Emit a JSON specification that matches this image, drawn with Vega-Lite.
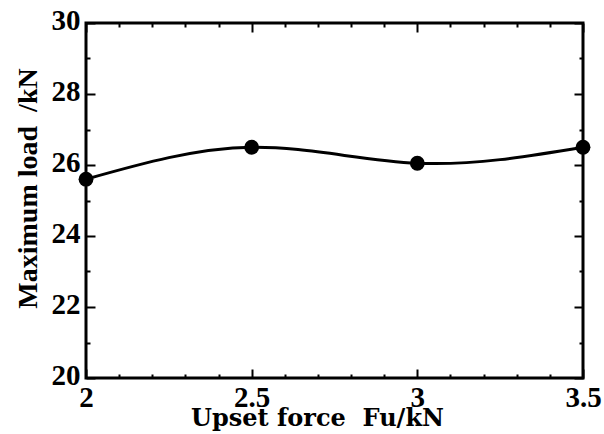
{
  "$schema": "https://vega.github.io/schema/vega-lite/v6.json",
  "width": 497,
  "height": 355,
  "autosize": {"type": "none"},
  "padding": {"left": 86, "top": 23, "right": 21, "bottom": 56},
  "background": "white",
  "config": {
    "view": {"stroke": "black", "strokeWidth": 3},
    "axis": {
      "domain": false,
      "grid": false,
      "tickColor": "black",
      "tickWidth": 2,
      "labelFont": "Liberation Serif",
      "labelFontWeight": "bold",
      "labelFontSize": 29,
      "labelColor": "black",
      "labelFlush": false,
      "labelOverlap": false,
      "titleFont": "Liberation Serif",
      "titleFontWeight": "bold",
      "titleFontSize": 28,
      "titleColor": "black"
    }
  },
  "data": {
    "values": [
      {"force": 2.0, "load": 25.6},
      {"force": 2.5, "load": 26.5},
      {"force": 3.0, "load": 26.05},
      {"force": 3.5, "load": 26.5}
    ]
  },
  "layer": [
    {
      "mark": {"type": "line", "interpolate": "natural", "color": "black", "strokeWidth": 3},
      "encoding": {
        "x": {
          "field": "force", "type": "quantitative",
          "scale": {"domain": [2, 3.5], "nice": false, "zero": false},
          "axis": {
            "orient": "bottom", "values": [2, 2.5, 3, 3.5], "format": "~g",
            "tickSize": -9, "labelPadding": 14,
            "title": "Upset force\u00a0 Fu/kN",
            "titleFont": "DejaVu Serif", "titleFontSize": 24,
            "titleX": 231, "titleY": 47, "titleAlign": "center", "titleBaseline": "alphabetic", "titleAnchor": null
          }
        },
        "y": {
          "field": "load", "type": "quantitative",
          "scale": {"domain": [20, 30], "nice": false, "zero": false},
          "axis": {
            "orient": "left", "values": [20, 22, 24, 26, 28, 30], "format": "d",
            "tickSize": -9, "labelPadding": 15, "labelOffset": -3,
            "title": "Maximum load\u00a0 /kN",
            "titleX": -50, "titleY": 165, "titleAlign": "center", "titleBaseline": "alphabetic", "titleAngle": -90, "titleAnchor": null
          }
        }
      }
    },
    {
      "mark": {"type": "point", "filled": true, "size": 220, "color": "black", "opacity": 1},
      "encoding": {
        "x": {
          "field": "force", "type": "quantitative",
          "axis": {
            "orient": "bottom", "values": [2.1, 2.2, 2.3, 2.4, 2.6, 2.7, 2.8, 2.9, 3.1, 3.2, 3.3, 3.4],
            "tickSize": -4, "labels": false, "title": null
          }
        },
        "y": {
          "field": "load", "type": "quantitative",
          "axis": {
            "orient": "left", "values": [21, 23, 25, 27, 29],
            "tickSize": -4, "labels": false, "title": null
          }
        }
      }
    },
    {
      "mark": {"type": "point", "opacity": 0},
      "encoding": {
        "x": {
          "field": "force", "type": "quantitative",
          "axis": {"orient": "top", "values": [2, 2.5, 3, 3.5], "tickSize": -9, "labels": false, "title": null}
        },
        "y": {
          "field": "load", "type": "quantitative",
          "axis": {"orient": "right", "values": [20, 22, 24, 26, 28, 30], "tickSize": -9, "labels": false, "title": null}
        }
      }
    },
    {
      "mark": {"type": "point", "opacity": 0},
      "encoding": {
        "x": {
          "field": "force", "type": "quantitative",
          "axis": {"orient": "top", "values": [2.1, 2.2, 2.3, 2.4, 2.6, 2.7, 2.8, 2.9, 3.1, 3.2, 3.3, 3.4], "tickSize": -4, "labels": false, "title": null}
        },
        "y": {
          "field": "load", "type": "quantitative",
          "axis": {"orient": "right", "values": [21, 23, 25, 27, 29], "tickSize": -4, "labels": false, "title": null}
        }
      }
    }
  ],
  "resolve": {"axis": {"x": "independent", "y": "independent"}}
}
